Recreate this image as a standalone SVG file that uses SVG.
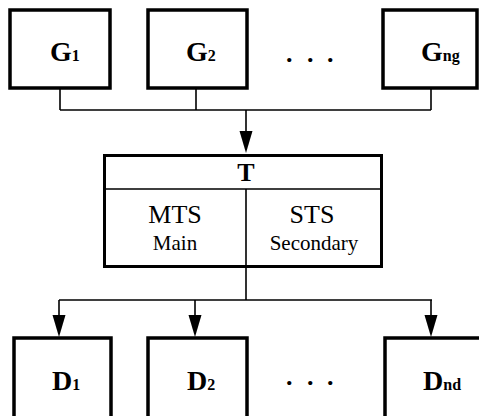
<svg xmlns="http://www.w3.org/2000/svg" width="479" height="416" viewBox="0 0 479 416">
  <style>
    .box { fill: #fff; stroke: #000; stroke-width: 3.5; }
    .tbox { fill: #fff; stroke: #000; stroke-width: 3; }
    .wire { fill: none; stroke: #000; stroke-width: 1.6; }
    .head { fill: #000; stroke: none; }
  </style>
  <rect width="479" height="416" fill="#fff"/>

  <!-- connectors: generators feed T, T feeds the loads -->
  <g id="connectors">
    <path class="wire" d="M60 88V110M196 88V110M431 88V110M60 110H431M246 110V140"/>
    <polygon class="head" points="239.5,131 252.5,131 246,153"/>
    <path class="wire" d="M246 268V300M59 300H432M59 300V326M195 300V326M431 300V326"/>
    <polygon class="head" points="52.5,315 65.5,315 59,337"/>
    <polygon class="head" points="188.5,315 201.5,315 195,337"/>
    <polygon class="head" points="424.5,315 437.5,315 431,337"/>
  </g>

  <g font-family="'Liberation Serif', 'Times New Roman', serif" fill="#000">
    <!-- generator row -->
    <g id="G1">
      <rect class="box" x="10" y="10" width="100" height="78"/>
      <text x="50" y="61" font-size="28" font-weight="bold">G<tspan font-size="16">1</tspan></text>
    </g>
    <g id="G2">
      <rect class="box" x="148" y="10" width="99" height="78"/>
      <text x="186" y="61" font-size="28" font-weight="bold">G<tspan font-size="16">2</tspan></text>
    </g>
    <text id="g-ellipsis" x="286 307 327" y="62" font-size="26" font-weight="bold">...</text>
    <g id="Gng">
      <rect class="box" x="383" y="10" width="94" height="78"/>
      <text x="421" y="61" font-size="28" font-weight="bold">G<tspan font-size="16">ng</tspan></text>
    </g>

    <!-- transfer switch -->
    <g id="T">
      <rect class="tbox" x="104.5" y="155.5" width="277" height="111"/>
      <path class="wire" d="M104 189H382M246 189V267" stroke-width="2"/>
      <text x="246" y="181" font-size="26" font-weight="bold" text-anchor="middle">T</text>
      <text x="175" y="223" font-size="26" text-anchor="middle">MTS</text>
      <text x="175" y="250" font-size="21" text-anchor="middle">Main</text>
      <text x="312" y="223" font-size="26" text-anchor="middle">STS</text>
      <text x="314" y="250" font-size="21" text-anchor="middle">Secondary</text>
    </g>

    <!-- load row -->
    <g id="D1">
      <rect class="box" x="14" y="338" width="97" height="100"/>
      <text x="52" y="390" font-size="28" font-weight="bold">D<tspan font-size="16">1</tspan></text>
    </g>
    <g id="D2">
      <rect class="box" x="148" y="338" width="99" height="100"/>
      <text x="187" y="390" font-size="28" font-weight="bold">D<tspan font-size="16">2</tspan></text>
    </g>
    <text id="d-ellipsis" x="286 307 327" y="385" font-size="26" font-weight="bold">...</text>
    <g id="Dnd">
      <rect class="box" x="385" y="338" width="110" height="100"/>
      <text x="423" y="390" font-size="28" font-weight="bold">D<tspan font-size="16">nd</tspan></text>
    </g>
  </g>
</svg>
